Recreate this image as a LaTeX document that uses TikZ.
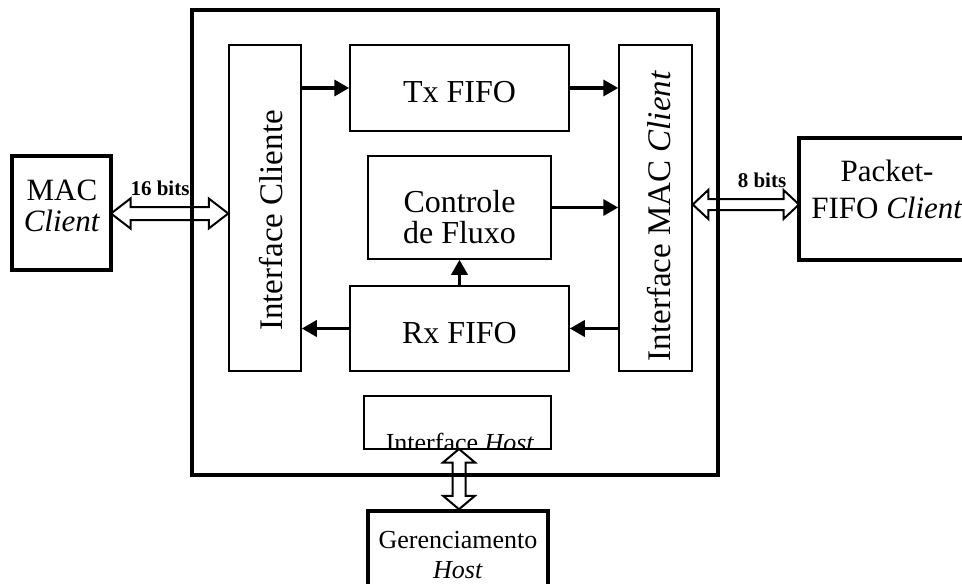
\documentclass[tikz,border=0pt]{standalone}
\usepackage{fontspec}
\setmainfont{Liberation Serif}
\usetikzlibrary{calc,arrows.meta}
\tikzset{
  box/.style={draw, line width=1.5pt, inner sep=0pt},
  thickbox/.style={draw, line width=3.5pt, inner sep=0pt},
  txt/.style={inner sep=0pt, align=center},
  arr/.style={line width=3.5pt, -{Triangle[length=15pt,width=16pt]}},
  dblline/.style={draw, line width=2pt, line join=miter},
  bits/.style={font=\fontsize{21}{24}\selectfont\bfseries, anchor=base},
}
\newcommand{\dblarr}[5]{%
  \path (#1) coordinate (da) (#2) coordinate (db);
  \path ($(da)!#3!(db)$) coordinate (dp) ($(db)!#3!(da)$) coordinate (dq);
  \draw[dblline] (da) -- ($(dp)!#4!90:(db)$) -- ($(dp)!#5!90:(db)$)
    -- ($(dq)!#5!-90:(da)$) -- ($(dq)!#4!-90:(da)$) -- (db)
    -- ($(dq)!#4!90:(da)$) -- ($(dq)!#5!90:(da)$)
    -- ($(dp)!#5!-90:(db)$) -- ($(dp)!#4!-90:(db)$) -- cycle;
}
\begin{document}
\begin{tikzpicture}[x=1pt,y=-1pt]
\useasboundingbox (0,0) rectangle (962,584);
\clip (0,0) rectangle (962,584);
% inner boxes
\node[box, minimum width=72pt, minimum height=326pt] (ic) at (265,208) {};
\node[txt, rotate=90, font=\fontsize{33}{36}\selectfont] (ict) at (271,220.5) {Interface Cliente};
\node[box, minimum width=73pt, minimum height=326pt] (mc) at (655.5,208) {};
\node[txt, rotate=90, font=\fontsize{33}{36}\selectfont] (mct) at (659,216) {Interface MAC \textit{Client}};
\node[box, minimum width=219pt, minimum height=86pt] (tx) at (459.5,88) {};
\node[txt, font=\fontsize{32}{34}\selectfont] (txt) at (459.5,92) {Tx FIFO};
\node[box, minimum width=183pt, minimum height=103pt] (cf) at (459.5,207.5) {};
\node[txt, font=\fontsize{32}{31}\selectfont] (cft) at (459.5,217) {Controle\\de Fluxo};
\node[box, minimum width=219pt, minimum height=85pt] (rx) at (459.5,328.5) {};
\node[txt, font=\fontsize{32}{34}\selectfont] (rxt) at (459.5,333) {Rx FIFO};
\node[box, minimum width=187pt, minimum height=53pt] (ih) at (457.5,422.5) {};
\begin{scope}
  \clip (ih.south west) rectangle (ih.north east);
  \node[anchor=base, font=\fontsize{26}{30}\selectfont, inner sep=0pt] (iht) at (460,451) {Interface \textit{Host}};
\end{scope}
% outer box
\node[draw, line width=4pt, minimum width=526pt, minimum height=465pt] (outer) at (455,242.5) {};
% external boxes
\node[thickbox, minimum width=99pt, minimum height=114pt] (mac) at (61.5,213) {};
\node[txt, font=\fontsize{31}{31}\selectfont] (mact) at (62,206) {MAC\\\textit{Client}};
\node[thickbox, minimum width=176pt, minimum height=122pt] (pf) at (887,199) {};
\node[txt, font=\fontsize{31}{37}\selectfont] (pft) at (887,189) {Packet-\\FIFO \textit{Client}};
\node[thickbox, minimum width=180pt, minimum height=99pt] (gh) at (458,560.5) {};
\node[txt, font=\fontsize{26}{30}\selectfont] (ght) at (458,555) {Gerenciamento\\\textit{Host}};
% internal arrows
\draw[arr] (ic.east |- tx.west) -- (tx.west);
\draw[arr] (tx.east) -- (tx.east -| mc.west);
\draw[arr] (cf.east) -- (cf.east -| mc.west);
\draw[arr] (rx.east -| mc.west) -- (rx.east);
\draw[arr] (rx.west) -- (rx.west -| ic.east);
\draw[arr] (rx.north) -- (cf.south);
% double arrows
\coordinate (c16) at (111,213.5);
\coordinate (c8) at (799,204.5);
\coordinate (ch) at (459,449);
\dblarr{c16}{c16 -| ic.west}{19.5pt}{15pt}{6.5pt}
\dblarr{c8 -| mc.east}{c8}{15.5pt}{14.5pt}{5.5pt}
\dblarr{ch}{ch |- gh.north}{13.5pt}{16pt}{6.5pt}
% labels
\node[bits] (l16) at (160,195) {16 bits};
\node[bits] (l8) at (762,187) {8 bits};
\end{tikzpicture}
\end{document}
